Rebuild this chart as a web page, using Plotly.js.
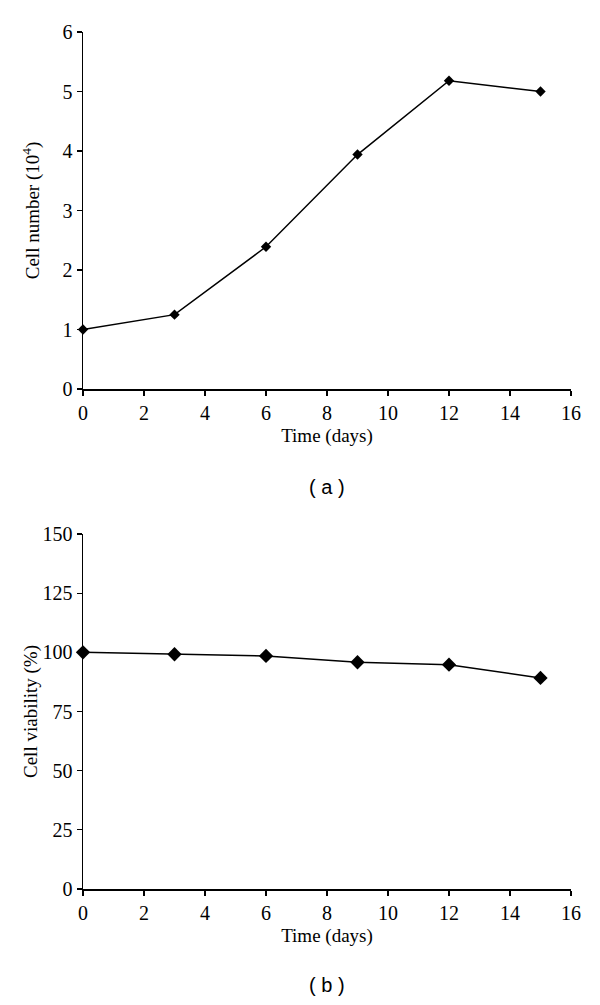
<!DOCTYPE html>
<html>
<head>
<meta charset="utf-8">
<script src="https://cdn.plot.ly/plotly-3.0.1.min.js"></script>
<style>html,body{margin:0;padding:0;background:#fff;}#chart{width:600px;height:1005px;}</style>
</head>
<body>
<div id="chart"></div>
<script>
const days = [0, 3, 6, 9, 12, 15];
const cellNumber = [1.0, 1.25, 2.39, 3.94, 5.18, 5.0];
const cellViability = [100, 99.2, 98.5, 95.8, 94.8, 89.2];
const xTicks = [0, 2, 4, 6, 8, 10, 12, 14, 16];
const yTicksA = [0, 1, 2, 3, 4, 5, 6];
const yTicksB = [0, 25, 50, 75, 100, 125, 150];

const serif = {family: 'Liberation Serif, Times New Roman, serif', size: 19, color: '#000'};
const tickSerif = {family: 'Liberation Serif, Times New Roman, serif', size: 20, color: '#000'};
const sans = {family: 'Liberation Sans, Arial, sans-serif', size: 20, color: '#000'};
const lineStyle = {color: '#000', width: 1.5};

const traces = [
  {x: days, y: cellNumber, xaxis: 'x', yaxis: 'y', mode: 'lines+markers', type: 'scatter',
   line: lineStyle, marker: {symbol: 'diamond', size: 8, color: '#000'}, cliponaxis: false},
  {x: days, y: cellViability, xaxis: 'x2', yaxis: 'y2', mode: 'lines+markers', type: 'scatter',
   line: lineStyle, marker: {symbol: 'diamond', size: 11, color: '#000'}, cliponaxis: false}
];

function xAxis(anchor) {
  return {anchor: anchor, range: [0, 16], tickvals: xTicks, ticktext: xTicks.map(String),
    showline: true, linecolor: '#000', linewidth: 1.5, ticks: 'outside', ticklen: 5,
    tickcolor: '#000', tickwidth: 1.2, showgrid: false, zeroline: false, tickfont: tickSerif,
    title: {text: 'Time (days)', font: serif, standoff: 6}, domain: [0, 1]};
}
function yAxis(anchor, range, vals, title, dom, standoff) {
  return {anchor: anchor, range: range, tickvals: vals, ticktext: vals.map(String),
    showline: true, linecolor: '#000', linewidth: 1.5, ticks: 'outside', ticklen: 5,
    tickcolor: '#000', tickwidth: 1.2, showgrid: false, zeroline: false, tickfont: tickSerif,
    title: {text: title, font: serif, standoff: standoff}, domain: dom};
}

const layout = {
  width: 600, height: 1005, showlegend: false,
  margin: {l: 83, r: 29, t: 0, b: 0},
  paper_bgcolor: '#fff', plot_bgcolor: '#fff',
  xaxis: xAxis('y'),
  yaxis: yAxis('x', [0, 6], yTicksA, 'Cell number (10<sup>4</sup>)', [1 - 389/1005, 1 - 32/1005], 18),
  xaxis2: xAxis('y2'),
  yaxis2: yAxis('x2', [0, 150], yTicksB, 'Cell viability (%)', [1 - 889/1005, 1 - 534/1005], 0),
  annotations: [
    {text: '( a )', xref: 'paper', yref: 'paper', x: 0.5, y: 1 - 487/1005, showarrow: false,
     xanchor: 'center', yanchor: 'middle', font: sans},
    {text: '( b )', xref: 'paper', yref: 'paper', x: 0.5, y: 1 - 985/1005, showarrow: false,
     xanchor: 'center', yanchor: 'middle', font: sans}
  ]
};

Plotly.newPlot('chart', traces, layout, {staticPlot: true, displayModeBar: false});
</script>
</body>
</html>
